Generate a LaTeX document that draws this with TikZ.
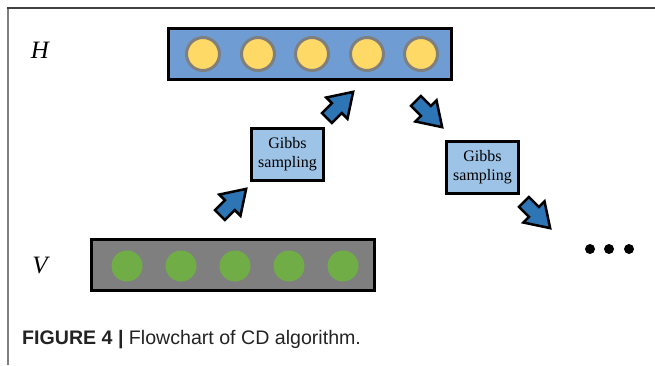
\documentclass[tikz,border=0pt]{standalone}
\usepackage{fontspec}
\setmainfont{Liberation Serif}
\newfontfamily\capfont{Liberation Sans}
\definecolor{hblue}{RGB}{111,157,211}
\definecolor{hyellow}{RGB}{255,217,102}
\definecolor{ringgray}{RGB}{127,127,127}
\definecolor{vgray}{RGB}{127,127,127}
\definecolor{vgreen}{RGB}{112,173,71}
\definecolor{gibbsfill}{RGB}{157,195,230}
\definecolor{arrowblue}{RGB}{46,117,182}
\definecolor{captext}{RGB}{35,35,35}
\tikzset{
  layerbox/.style={draw=black, line width=3pt, rectangle, minimum width=283pt, minimum height=51pt, inner sep=0pt},
  hunit/.style={circle, fill=hyellow, draw=ringgray, line width=3pt, minimum size=33pt, inner sep=0pt},
  vunit/.style={circle, fill=vgreen, minimum size=31pt, inner sep=0pt},
  gibbsbox/.style={draw=black, line width=2.5pt, fill=gibbsfill, rectangle, minimum width=72pt, minimum height=52pt, inner sep=0pt, align=center, font=\fontsize{16}{19}\selectfont},
  layerlabel/.style={font=\fontsize{25}{28}\selectfont\itshape},
  dotstyle/.style={circle, fill=black, minimum size=10pt, inner sep=0pt},
  arrowstyle/.style={draw=black, line width=2.5pt, fill=arrowblue, line join=miter},
  blockarrow/.pic={\path[arrowstyle] (-17,-7)--(-3,-7)--(-3,-15)--(20,0)--(-3,15)--(-3,7)--(-17,7)--cycle;}
}
\begin{document}
\begin{tikzpicture}[x=1pt,y=-1pt]
\useasboundingbox (0,0) rectangle (655,365);
% frame
\draw[line width=2pt, color=ringgray] (8,8) -- (8,365);
\draw[line width=2pt, color=black!75] (7,8) -- (655,8);
% labels
\node[layerlabel] (hl) at (40,50) {H};
\node[layerlabel] (vl) at (40,265) {V};
% hidden layer
\node[layerbox, fill=hblue] (hbox) at (310,53.5) {};
\foreach \i/\x in {1/203,2/258,3/312,4/367,5/421}
  \node[hunit] (h\i) at (\x,54) {};
% visible layer
\node[layerbox, fill=vgray] (vbox) at (232.5,264.5) {};
\foreach \i/\x in {1/127,2/181,3/235,4/289,5/343}
  \node[vunit] (v\i) at (\x,266) {};
% gibbs boxes
\node[gibbsbox] (g1) at (287.5,154.5) {Gibbs\\sampling};
\node[gibbsbox] (g2) at (482.5,167.5) {Gibbs\\sampling};
% block arrows
\pic[rotate=45] (a1) at (232,203) {blockarrow};
\pic[rotate=45] (a2) at (339,106) {blockarrow};
\pic[rotate=-45] (a3) at (428,113) {blockarrow};
\pic[rotate=-45] (a4) at (536,214) {blockarrow};
% dots
\node[dotstyle] (d1) at (590,249) {};
\node[dotstyle] (d2) at (609,249) {};
\node[dotstyle] (d3) at (629,249) {};
% caption
\node[anchor=base west, inner sep=0pt, text=captext, font=\capfont\fontsize{19.6}{22}\selectfont] (cap) at (22,344) {\textbf{FIGURE 4} \textbf{|} Flowchart of CD algorithm.};
\end{tikzpicture}
\end{document}
